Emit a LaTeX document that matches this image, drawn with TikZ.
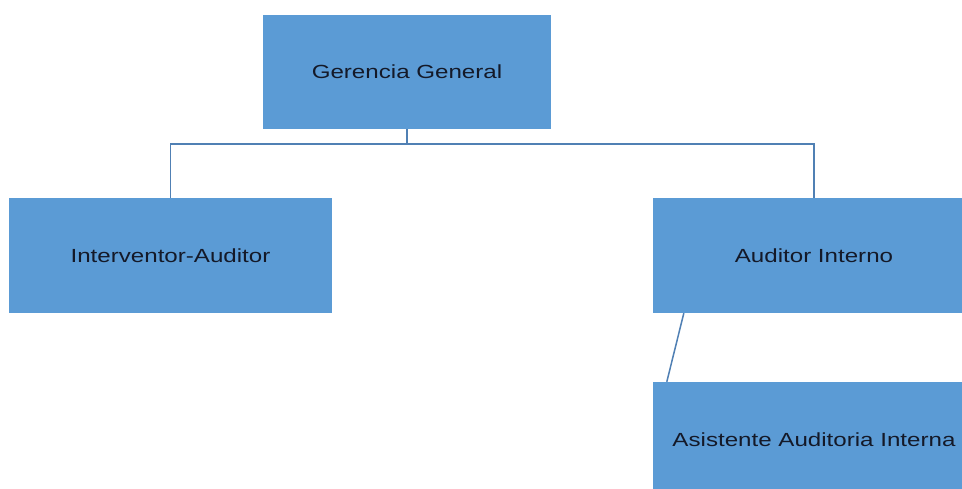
\documentclass[tikz,border=0pt]{standalone}
\usepackage{fontspec}
\setmainfont{Liberation Sans}
\usetikzlibrary{calc}
\definecolor{boxfill}{RGB}{91,155,213}
\definecolor{linecol}{RGB}{80,128,180}
\definecolor{txtcol}{RGB}{20,25,40}
\tikzset{
  orgbox/.style={rectangle, fill=boxfill, draw=none, inner sep=0pt, minimum width=#1, minimum height=115pt, text=txtcol,
    font=\fontsize{19pt}{22pt}\selectfont},
  conn/.style={draw=linecol, line width=1.5pt},
}
\newcommand{\wide}[1]{\scalebox{1.27}[1]{#1}}
\begin{document}
\begin{tikzpicture}[x=1pt,y=1pt]
\clip (0,0) rectangle (962,-489);
\fill[white] (0,0) rectangle (962,-489);
\node[orgbox=288pt, minimum height=114pt] (g) at (407,-72) {\wide{Gerencia General}};
\node[orgbox=323pt] (i) at (170.5,-255.5) {\wide{Interventor-Auditor}};
\node[orgbox=322pt] (a) at (814,-255.5) {\wide{Auditor Interno}};
\node[orgbox=322pt] (s) at (814,-439.5) {\wide{Asistente Auditoria Interna}};
\coordinate (bus) at (407,-144);
\draw[conn] (g.south) -- (bus);
\draw[conn] (bus) -| (i.north);
\draw[conn] (bus) -| (a.north);
\draw[conn] ($(a.south west)+(31,0)$) -- ($(s.north west)+(14,0)$);
\end{tikzpicture}
\end{document}
